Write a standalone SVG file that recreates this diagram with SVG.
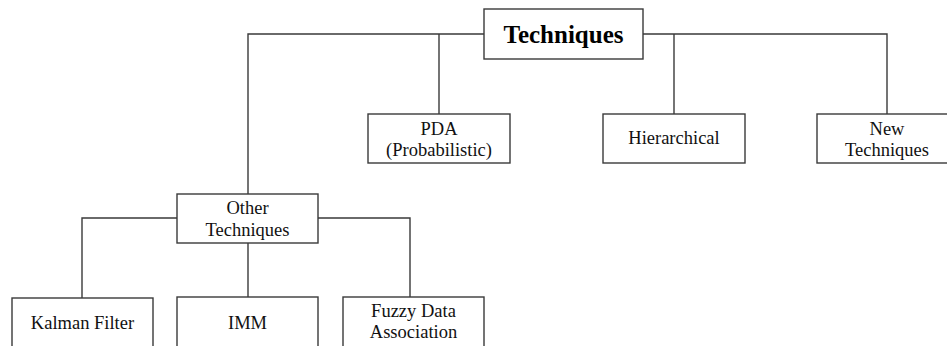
<svg xmlns="http://www.w3.org/2000/svg" width="947" height="346" viewBox="0 0 947 346">
  <style>
    .box { fill: #ffffff; stroke: #3a3a3a; stroke-width: 1.4; }
    .link { fill: none; stroke: #3a3a3a; stroke-width: 1.4; }
    .lbl { font-family: "Liberation Serif", "Times New Roman", serif; font-size: 18.5px; fill: #111111; text-anchor: middle; }
    .root { font-family: "Liberation Serif", "Times New Roman", serif; font-size: 25px; font-weight: bold; fill: #000000; text-anchor: middle; }
  </style>
  <rect width="947" height="346" fill="#ffffff"/>

  <g id="connectors">
    <!-- root to first level -->
    <path class="link" d="M484,34 H248 V194"/>
    <path class="link" d="M439,34 V114"/>
    <path class="link" d="M643,34 H887 V114"/>
    <path class="link" d="M674,34 V114"/>
    <!-- Other Techniques to leaves -->
    <path class="link" d="M177,218 H82 V298"/>
    <path class="link" d="M248,243 V297"/>
    <path class="link" d="M318,218 H410 V297"/>
  </g>

  <g id="techniques">
    <rect class="box" x="484" y="9" width="159" height="50"/>
    <text class="root" x="563.5" y="43">Techniques</text>
  </g>

  <g id="pda">
    <rect class="box" x="368" y="114" width="142" height="49"/>
    <text class="lbl" x="439" y="135">PDA</text>
    <text class="lbl" x="439" y="156">(Probabilistic)</text>
  </g>

  <g id="hierarchical">
    <rect class="box" x="603" y="114" width="142" height="49"/>
    <text class="lbl" x="674" y="144">Hierarchical</text>
  </g>

  <g id="new-techniques">
    <rect class="box" x="817" y="114" width="142" height="49"/>
    <text class="lbl" x="887" y="135">New</text>
    <text class="lbl" x="887" y="156">Techniques</text>
  </g>

  <g id="other-techniques">
    <rect class="box" x="177" y="194" width="141" height="49"/>
    <text class="lbl" x="247.5" y="214">Other</text>
    <text class="lbl" x="247.5" y="236">Techniques</text>
  </g>

  <g id="kalman-filter">
    <rect class="box" x="12" y="298" width="141" height="60"/>
    <text class="lbl" x="82.5" y="329">Kalman Filter</text>
  </g>

  <g id="imm">
    <rect class="box" x="177" y="297" width="141" height="60"/>
    <text class="lbl" x="247.5" y="329">IMM</text>
  </g>

  <g id="fuzzy-data-association">
    <rect class="box" x="343" y="297" width="141" height="60"/>
    <text class="lbl" x="413.5" y="317">Fuzzy Data</text>
    <text class="lbl" x="413.5" y="338">Association</text>
  </g>
</svg>
